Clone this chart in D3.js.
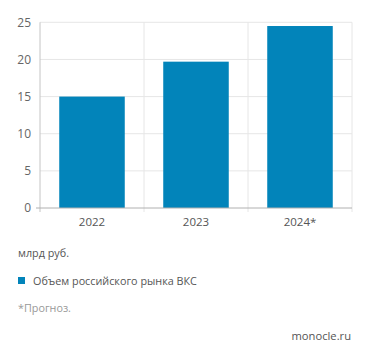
<!DOCTYPE html>
<html><head><meta charset="utf-8">
<script src="https://cdn.jsdelivr.net/npm/d3@7"></script>
<style>body{margin:0;background:#fff;} text{font-family:"Open Sans",sans-serif;}</style>
</head><body>
<svg id="c" width="371" height="358"></svg>
<script>
const categories = ["2022","2023","2024*"];
const values = [15.0, 19.7, 24.5];
const yTicks = [0,5,10,15,20,25];
const unitLabel = "млрд руб.";
const seriesName = "Объем российского рынка ВКС";
const note = "*Прогноз.";
const source = "monocle.ru";

const svg = d3.select("#c");
const L=40, R=352, T=22.3, B=208;
const x = d3.scaleBand().domain(categories).range([L,R]).padding(0);
const y = d3.scaleLinear().domain([0,25]).range([B,T]);
const barColor = "#0284ba";

// gridlines
svg.append("g").selectAll("line").data(yTicks.slice(1)).join("line")
  .attr("x1",L).attr("x2",R).attr("y1",d=>y(d)).attr("y2",d=>y(d))
  .attr("stroke","#e6e6e6").attr("stroke-width",1);
svg.append("g").selectAll("line").data(categories.slice(1).concat(["__end"])).join("line")
  .attr("x1",d=>d==="__end"?R:x(d)).attr("x2",d=>d==="__end"?R:x(d))
  .attr("y1",T).attr("y2",B+4)
  .attr("stroke","#e6e6e6").attr("stroke-width",1);

// bars
const bw = x.bandwidth();
svg.append("g").selectAll("rect").data(values).join("rect")
  .attr("x",(d,i)=>x(categories[i])+bw*0.185)
  .attr("width",bw*0.63)
  .attr("y",d=>y(d)).attr("height",d=>B-y(d))
  .attr("fill",barColor);

// y axis
const ya = svg.append("g").attr("transform",`translate(${L},0)`)
  .call(d3.axisLeft(y).tickValues(yTicks).tickSize(0).tickPadding(9));
ya.select(".domain").attr("stroke","#c4c4c4").attr("d",`M0,${T}V${B+4}`);
ya.selectAll("text").attr("fill","#666").attr("font-size","12px");

// x axis
const xa = svg.append("g").attr("transform",`translate(0,${B})`)
  .call(d3.axisBottom(x).tickSize(0).tickPadding(10));
xa.select(".domain").attr("stroke","#b0b0b0").attr("d",`M${L-4},0H${R}`);
xa.selectAll("text").attr("fill","#555").attr("font-size","11.5px");

// texts
svg.append("text").attr("x",18).attr("y",257).attr("fill","#555").attr("font-size","10.8px").text(unitLabel);
svg.append("rect").attr("x",18).attr("y",277).attr("width",7).attr("height",7).attr("fill",barColor);
svg.append("text").attr("x",33).attr("y",285).attr("fill","#555").attr("font-size","10.8px").text(seriesName);
svg.append("text").attr("x",18).attr("y",312).attr("fill","#999").attr("font-size","10.8px").text(note);
svg.append("text").attr("x",351).attr("y",340).attr("text-anchor","end").attr("fill","#555").attr("font-size","11.2px").text(source);
</script>
</body></html>
